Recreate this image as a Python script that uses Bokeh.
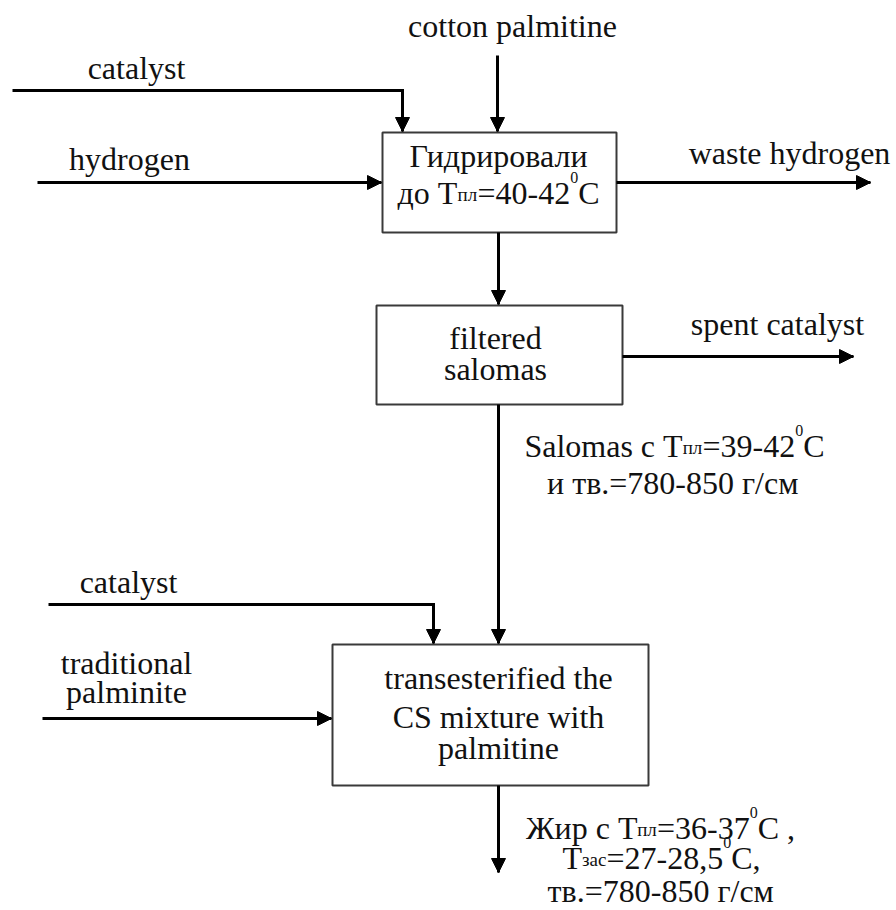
from bokeh.plotting import figure
from bokeh.models import ColumnDataSource, Arrow, NormalHead
from bokeh.core.properties import value
from bokeh.embed import file_html
from bokeh.resources import INLINE

# ---------------- data ----------------
box_left = [382, 376, 332]
box_right = [616, 622, 648]
box_top = [132, 305, 644]
box_bottom = [232, 404, 785]

flow_x = [[497, 497], [12, 402, 402], [37, 381], [616, 870], [498, 498],
          [622, 853], [498, 498], [48, 433, 433], [42, 331], [498, 498]]
flow_y = [[55, 131], [90, 90, 131], [182, 182], [182, 182], [232, 304],
          [356, 356], [404, 643], [604, 604, 643], [718, 718], [785, 872]]

plain_text = ["cotton palmitine", "catalyst", "hydrogen", "waste hydrogen",
              "Гидрировали", "filtered", "salomas", "spent catalyst",
              "catalyst", "traditional", "palminite",
              "transesterified the", "CS mixture with", "palmitine"]
plain_x = [512, 136, 129, 789, 498, 495, 495, 777, 128, 126, 126, 498, 498, 498]
plain_y = [35, 77, 168, 162, 165, 347, 378, 333, 591, 672, 701, 687, 726, 757]

rich_lines = [
    [("до T", "n"), ("пл", "sub"), ("=40-42", "n"), ("0", "sup"), ("C", "n")],
    [("Salomas с T", "n"), ("пл", "sub"), ("=39-42", "n"), ("0", "sup"), ("C", "n")],
    [("и тв.=780-850 г/см", "n")],
    [("Жир с T", "n"), ("пл", "sub"), ("=36-37", "n"), ("0", "sup"), ("C ,", "n")],
    [("T", "n"), ("зас", "sub"), ("=27-28,5", "n"), ("0", "sup"), ("C,", "n")],
    [("тв.=780-850 г/см", "n")],
]
rich_x = [498, 674, 672, 660, 661, 660]
rich_y = [202, 455, 492, 837, 867, 900]

# ---------------- styling ----------------
FONT = "Liberation Serif"
MAIN = 32
SIZES = {"n": 32, "sub": 19, "sup": 16}
OFFS = {"n": 0, "sub": 2, "sup": -15}
TEXT_DY = -10   # renderer places alphabetic baseline a little low

W = {' ': 250, ',': 250, '-': 333, '.': 250, '/': 278, '=': 564,
     'C': 667, 'S': 556, 'T': 611,
     'a': 444, 'c': 444, 'd': 500, 'e': 444, 'f': 333, 'g': 500, 'h': 500,
     'i': 278, 'l': 278, 'm': 778, 'n': 500, 'o': 500, 'p': 500, 'r': 333,
     's': 389, 't': 278, 'u': 500, 'w': 722, 'x': 500, 'y': 500,
     'Г': 578, 'Ж': 885, 'и': 535, 'д': 514, 'р': 500, 'о': 500, 'в': 469,
     'а': 444, 'л': 512, 'п': 535, 'с': 444, 'т': 437, 'з': 396, 'г': 405,
     'м': 626}
for d in "0123456789":
    W[d] = 500


def width(s, size):
    return sum(W.get(ch, 500) for ch in s) * size / 1000.0


p = figure(width=896, height=910, x_range=(0, 896), y_range=(910, 0),
           output_backend="svg", toolbar_location=None, min_border=0,
           x_axis_location=None, y_axis_location=None)
p.grid.visible = False
p.outline_line_color = None
p.background_fill_color = "white"
p.border_fill_color = "white"

# boxes
p.quad(left=box_left, right=box_right, top=box_top, bottom=box_bottom,
       fill_color="white", line_color="#3a3a3a", line_width=2)

# flow lines
p.multi_line(xs=flow_x, ys=flow_y, line_color="black", line_width=3,
             line_join="miter")

# arrowheads
src = ColumnDataSource(dict(
    x0=[xs[-2] for xs in flow_x], y0=[ys[-2] for ys in flow_y],
    x1=[xs[-1] for xs in flow_x], y1=[ys[-1] for ys in flow_y]))
p.add_layout(Arrow(x_start="x0", y_start="y0", x_end="x1", y_end="y1",
                   source=src, line_alpha=0,
                   end=NormalHead(size=14, fill_color="black",
                                  line_color="black", line_width=1)))

# plain texts
p.text(x=plain_x, y=[y + TEXT_DY for y in plain_y], text=plain_text,
       text_font=value(FONT), text_font_size=value(f"{MAIN}px"),
       text_align="center", text_baseline="alphabetic", text_color="#111111")

# rich texts (sub/superscripts)
segs = {k: dict(x=[], y=[], t=[]) for k in SIZES}
for line, cx, by in zip(rich_lines, rich_x, rich_y):
    total = sum(width(t, SIZES[k]) for t, k in line)
    x = cx - total / 2.0
    for t, k in line:
        segs[k]["x"].append(x)
        segs[k]["y"].append(by + OFFS[k] + TEXT_DY)
        segs[k]["t"].append(t)
        x += width(t, SIZES[k])
for k, d in segs.items():
    if d["t"]:
        p.text(x=d["x"], y=d["y"], text=d["t"], text_font=value(FONT),
               text_font_size=value(f"{SIZES[k]}px"), text_align="left",
               text_baseline="alphabetic", text_color="#111111")

open("out.html", "w").write(file_html(p, INLINE))
